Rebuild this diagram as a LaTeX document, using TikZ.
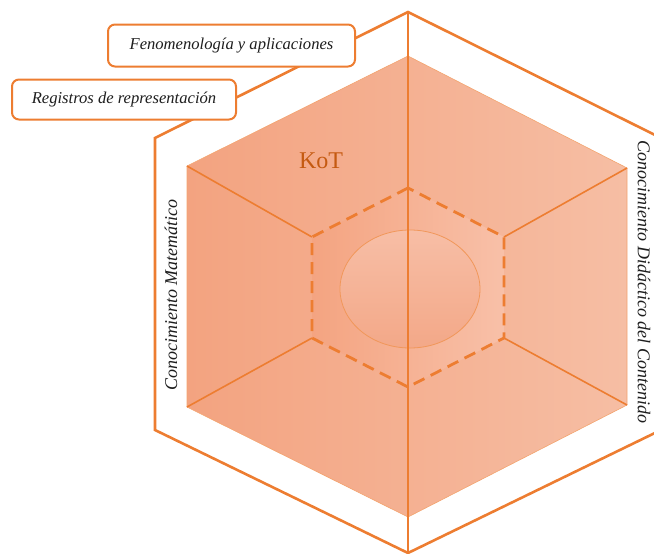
\documentclass[tikz,border=0pt]{standalone}
\usepackage{fontspec}
\setmainfont{Liberation Serif}
\definecolor{org}{RGB}{237,125,49}
\definecolor{kot}{RGB}{197,90,17}
\definecolor{txt}{RGB}{30,30,30}
\definecolor{cubeL}{RGB}{243,163,128}
\definecolor{cubeR}{RGB}{246,190,164}
\definecolor{midL}{RGB}{244,164,129}
\definecolor{midR}{RGB}{248,192,168}
\definecolor{ellT}{RGB}{247,190,166}
\definecolor{ellB}{RGB}{243,168,136}
\tikzset{
  outerline/.style={draw=org, line width=2.6pt, line join=miter},
  spoke/.style={draw=org, line width=1.6pt},
  dashhex/.style={draw=org, line width=2.8pt, dash pattern=on 12pt off 7pt},
  labelbox/.style={draw=org, line width=2pt, fill=white, rounded corners=7pt,
    inner sep=0pt, font=\fontsize{16.6}{19}\selectfont\itshape, text=txt},
  sidetext/.style={font=\fontsize{18}{21}\selectfont\itshape, text=txt, inner sep=0pt}
}
\begin{document}
\begin{tikzpicture}[x=1pt,y=-1pt]
\useasboundingbox (0,0) rectangle (654,554);
\clip (0,0) rectangle (654,554);
% outer hexagon
\coordinate (oT) at (408,12);
\coordinate (oUL) at (155,138);
\coordinate (oLL) at (155,430);
\coordinate (oB) at (408,553);
\coordinate (oLR) at (661,430);
\coordinate (oUR) at (661,138);
\draw[outerline] (oT) -- (oUL) -- (oLL) -- (oB) -- (oLR) -- (oUR) -- cycle;
% cube
\coordinate (cT) at (408,56);
\coordinate (cUL) at (187,166);
\coordinate (cLL) at (187,407);
\coordinate (cB) at (408,517);
\coordinate (cLR) at (627,405);
\coordinate (cUR) at (627,168);
\shade[left color=cubeL, right color=cubeR] (cT) -- (cUL) -- (cLL) -- (cB) -- (cLR) -- (cUR) -- cycle;
\draw[org!70, line width=0.6pt] (cT) -- (cUL) -- (cLL) -- (cB) -- (cLR) -- (cUR) -- cycle;
% inner hexagon
\coordinate (iT) at (408,188);
\coordinate (iUL) at (312,237);
\coordinate (iLL) at (312,338);
\coordinate (iB) at (408,387);
\coordinate (iLR) at (504,338);
\coordinate (iUR) at (504,237);
\shade[left color=midL, right color=midR] (iT) -- (iUL) -- (iLL) -- (iB) -- (iLR) -- (iUR) -- cycle;
% spokes
\draw[spoke] (cUL) -- (iUL);
\draw[spoke] (cLL) -- (iLL);
\draw[spoke] (cUR) -- (iUR);
\draw[spoke] (cLR) -- (iLR);
% ellipse
\shade[top color=ellT, bottom color=ellB] (410,289) ellipse [x radius=70, y radius=59];
\draw[org!80, line width=0.8pt] (410,289) ellipse [x radius=70, y radius=59];
% vertical axis
\draw[org, line width=1.8pt] (oT) -- (oB);
% dashed hexagon
\draw[dashhex] (iT) -- (iUL) -- (iLL) -- (iB) -- (iLR) -- (iUR) -- cycle;
% boxes
\node[labelbox, minimum width=247pt, minimum height=42pt] (fen) at (231.5,45.5) {Fenomenología y aplicaciones};
\node[labelbox, minimum width=224pt, minimum height=40pt] (reg) at (124,99.5) {Registros de representación};
% texts
\node[font=\fontsize{24}{28}\selectfont, text=kot, inner sep=0pt] (kotlabel) at (321,161) {KoT};
\node[sidetext, rotate=90] (cm) at (171,295) {Conocimiento Matemático};
\node[sidetext, rotate=-90] (cdc) at (644,282) {Conocimiento Didáctico del Contenido};
\end{tikzpicture}
\end{document}
